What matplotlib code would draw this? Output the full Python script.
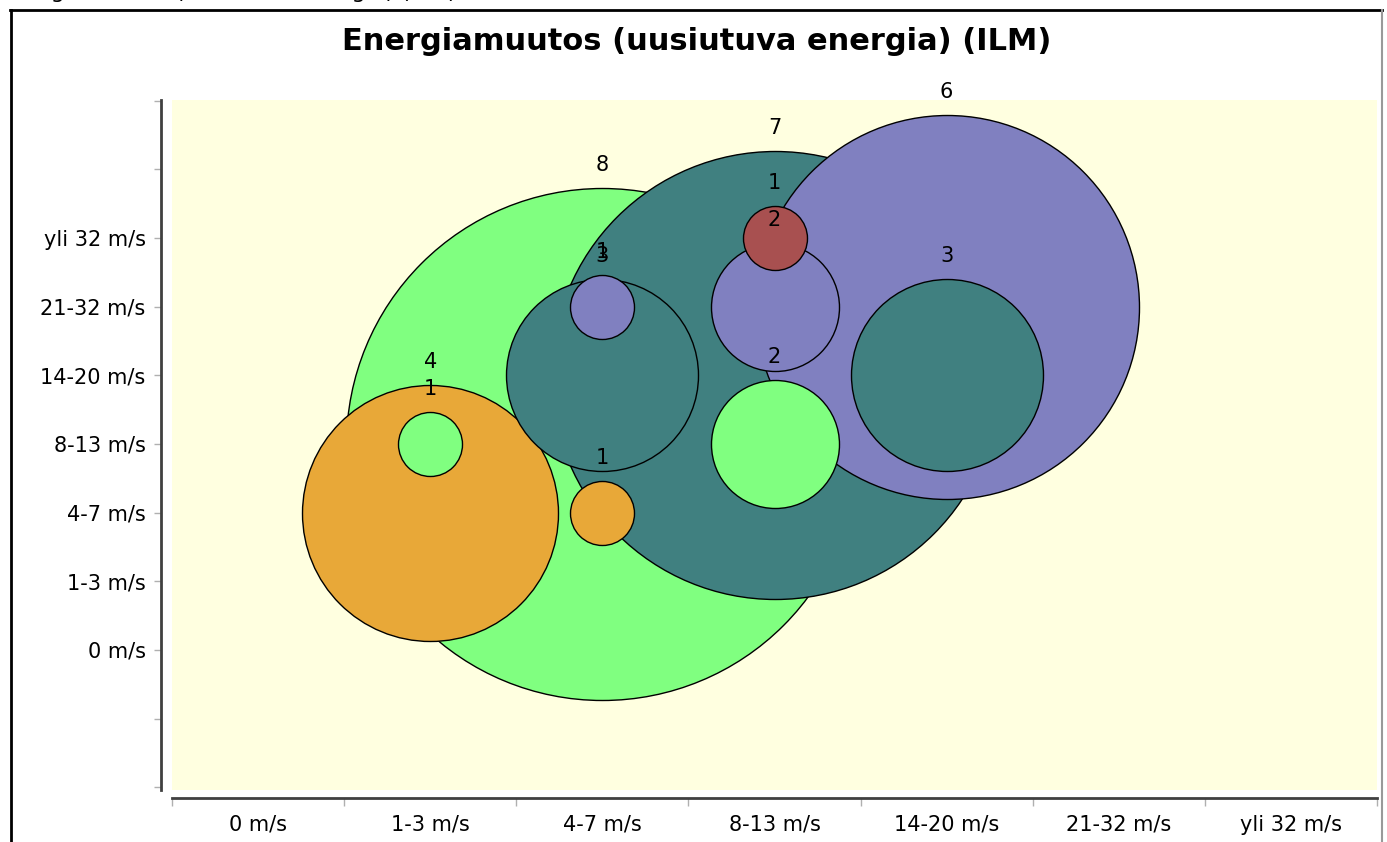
import matplotlib
matplotlib.use("Agg")
import matplotlib.pyplot as plt
from matplotlib.lines import Line2D

# tuulen nopeusluokat (kategoriat)
categories = ["0 m/s", "1-3 m/s", "4-7 m/s", "8-13 m/s", "14-20 m/s", "21-32 m/s", "yli 32 m/s"]

# kuplat sarjoittain: x-luokka, y-luokka, koko
green_x = [2, 3, 1]
green_y = [3, 3, 3]
green_z = [8, 2, 1]

teal_x = [3, 4, 2]
teal_y = [4, 4, 4]
teal_z = [7, 3, 3]

purple_x = [4, 3, 2]
purple_y = [5, 5, 5]
purple_z = [6, 2, 1]

orange_x = [1, 2]
orange_y = [2, 2]
orange_z = [4, 1]

red_x = [3]
red_y = [6]
red_z = [1]

series = [
    (green_x, green_y, green_z, "#80FF80"),
    (teal_x, teal_y, teal_z, "#408080"),
    (purple_x, purple_y, purple_z, "#8080C0"),
    (orange_x, orange_y, orange_z, "#E8A838"),
    (red_x, red_y, red_z, "#A85050"),
]

DPI = 100
fig = plt.figure(figsize=(13.87, 8.42), dpi=DPI)
fig.patch.set_facecolor("white")

# leikkautunut otsikko kuvan yläreunassa
fig.text(0.0, 1 + 2 / 842, "Energiamuutos (uusiutuva energia) (ILM)",
         fontsize=16, va="baseline", ha="left", color="black")

# kehys
fig.add_artist(Line2D([10 / 1387, 1382 / 1387], [1 - 10 / 842, 1 - 10 / 842],
                      transform=fig.transFigure, color="black", lw=2))
fig.add_artist(Line2D([11 / 1387, 11 / 1387], [0, 1 - 10 / 842],
                      transform=fig.transFigure, color="black", lw=2))
fig.add_artist(Line2D([1382 / 1387, 1382 / 1387], [0, 1 - 10 / 842],
                      transform=fig.transFigure, color="#999999", lw=1.5))

ax = fig.add_axes([172 / 1387, 1 - 790 / 842, 1205 / 1387, 690 / 842])
ax.set_facecolor("#FFFFE0")
ax.set_xlim(-0.5, 6.5)
ax.set_ylim(-2.04, 8.01)

# kaikki kuplat suurimmasta pienimpään
bubbles = []
for xs, ys, zs, col in series:
    for x, y, z in zip(xs, ys, zs):
        bubbles.append((z, x, y, col))
bubbles.sort(key=lambda b: -b[0])

px_per_unit = 64  # kuplan halkaisija pikseleinä per koko
for z, x, y, col in bubbles:
    d_pt = px_per_unit * z * 72 / DPI
    ax.scatter([x], [y], s=d_pt ** 2, c=col, edgecolors="black",
               linewidths=1.0, zorder=2)

for z, x, y, col in bubbles:
    off = (32 * z + 23) * 72 / DPI
    ax.annotate(str(z), (x, y), xytext=(0, off), textcoords="offset points",
                ha="center", va="center", fontsize=15, color="black", zorder=5)

# akselit
for s in ["top", "right"]:
    ax.spines[s].set_visible(False)
ax.spines["left"].set_position(("outward", 8))
ax.spines["bottom"].set_position(("outward", 6))
ax.spines["left"].set_color("#404040")
ax.spines["bottom"].set_color("#404040")
ax.spines["left"].set_linewidth(2)
ax.spines["bottom"].set_linewidth(2)

ax.set_xticks([i - 0.5 for i in range(8)])
ax.set_xticklabels([])
ax.set_xticks(range(7), minor=True)
ax.set_xticklabels(categories, minor=True)
ax.tick_params(axis="x", which="major", length=6, color="#B0B0B0", width=1)
ax.tick_params(axis="x", which="minor", length=0, pad=12, labelsize=15)

ax.set_yticks(range(-2, 9))
ax.set_yticklabels(["", ""] + categories + ["", ""])
ax.tick_params(axis="y", length=5, color="#B0B0B0", width=1, pad=6, labelsize=15)

fig.text(697 / 1387, 1 - 42 / 842, "Energiamuutos (uusiutuva energia) (ILM)",
         fontsize=22, fontweight="bold", ha="center", va="center")

fig.savefig("out.png", dpi=DPI)
